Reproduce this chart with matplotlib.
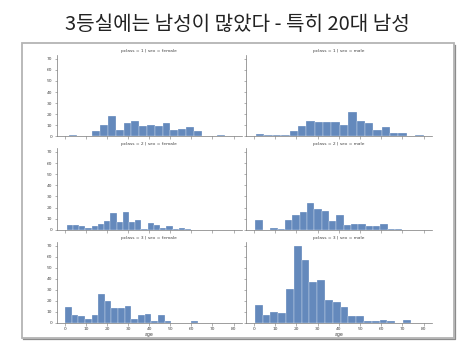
import matplotlib.pyplot as plt
import numpy as np
from matplotlib.patches import Rectangle
from matplotlib.lines import Line2D

# age histogram counts per facet (20 bins over each facet's own age range)
pclass_rows = [1, 2, 3]
sex_cols = ['female', 'male']

age_min = {(1, 'female'): 2.0, (1, 'male'): 0.92,
           (2, 'female'): 0.92, (2, 'male'): 0.67,
           (3, 'female'): 0.17, (3, 'male'): 0.33}
age_max = {(1, 'female'): 76.0, (1, 'male'): 80.0,
           (2, 'female'): 60.0, (2, 'male'): 70.0,
           (3, 'female'): 63.0, (3, 'male'): 74.0}

female_1 = [1, 0, 0, 5, 10, 18, 6, 12, 14, 9, 10, 9, 12, 6, 7, 8, 5, 0, 0, 1]
male_1 = [2, 1, 1, 1, 5, 9, 14, 13, 13, 13, 10, 22, 14, 12, 6, 8, 3, 3, 0, 1]
female_2 = [4, 4, 3, 2, 3, 5, 8, 15, 7, 16, 7, 9, 1, 6, 4, 2, 3, 1, 2, 1]
male_2 = [9, 0, 2, 1, 9, 13, 16, 24, 19, 17, 8, 13, 4, 5, 5, 3, 3, 5, 1, 1]
female_3 = [14, 7, 6, 3, 7, 26, 20, 13, 13, 15, 3, 7, 8, 1, 7, 1, 0, 0, 0, 1]
male_3 = [16, 7, 10, 9, 31, 70, 57, 37, 39, 21, 19, 14, 6, 6, 1, 1, 2, 1, 0, 2]

counts = {(1, 'female'): female_1, (1, 'male'): male_1,
          (2, 'female'): female_2, (2, 'male'): male_2,
          (3, 'female'): female_3, (3, 'male'): male_3}

title = '3등실에는 남성이 많았다 - 특히 20대 남성'

BAR_COLOR = '#6489bc'
SPINE_COLOR = '#777777'

fig = plt.figure(figsize=(4.73, 3.52), dpi=100)
fig.patch.set_facecolor('white')

W, H = 473.0, 352.0

# slide title
fig.text(237 / W, 1 - 24.5 / H, title, ha='center', va='center', fontsize=14.5,
         color='#222222', family=['Noto Sans CJK KR', 'DejaVu Sans'])

# picture frame with a little shadow
fx0, fx1, fy0, fy1 = 21.5, 454, 43, 338
fig.patches.append(Rectangle((fx0 / W, 1 - fy1 / H), (fx1 - fx0) / W, (fy1 - fy0) / H,
                             transform=fig.transFigure, fill=False,
                             edgecolor='#b4b4b4', linewidth=1.3))
fig.lines.append(Line2D([(fx0 + 1.5) / W, (fx1 + 1.2) / W, (fx1 + 1.2) / W],
                        [1 - (fy1 + 1.2) / H, 1 - (fy1 + 1.2) / H, 1 - (fy0 + 1.5) / H],
                        transform=fig.transFigure, color='#8c8c8c', linewidth=0.9))

# facet positions in pixels (top, bottom) and (left, right)
row_px = [(55, 136.3), (148, 229.8), (242, 322.5)]
col_px = [(56.7, 242), (246, 432)]

for r, pc in enumerate(pclass_rows):
    for c, sx in enumerate(sex_cols):
        top, bot = row_px[r]
        left, right = col_px[c]
        ax = fig.add_axes([left / W, 1 - bot / H, (right - left) / W, (bot - top) / H])

        edges = np.linspace(age_min[pc, sx], age_max[pc, sx], len(counts[pc, sx]) + 1)
        ax.bar(edges[:-1], counts[pc, sx], width=np.diff(edges), align='edge',
               color=BAR_COLOR, edgecolor='white', linewidth=0.2)

        ax.set_xlim(-3.8, 84)
        ax.set_ylim(0, 73.5)
        ax.set_xticks(range(0, 81, 10))
        ax.set_yticks(range(0, 71, 10))

        for side in ['top', 'right']:
            ax.spines[side].set_visible(False)
        for side in ['left', 'bottom']:
            ax.spines[side].set_color(SPINE_COLOR)
            ax.spines[side].set_linewidth(0.5)

        ax.tick_params(length=1.8, width=0.4, color=SPINE_COLOR, labelsize=3.2,
                       labelcolor='#444444', pad=1.5)
        if c != 0:
            ax.tick_params(labelleft=False)
        if r != len(pclass_rows) - 1:
            ax.tick_params(labelbottom=False)
        else:
            ax.set_xlabel('age', fontsize=3.4, color='#444444', labelpad=1)

        ax.set_title(f'pclass = {pc} | sex = {sx}', fontsize=3.2, color='#444444', pad=2)

fig.savefig('out.png', dpi=100, facecolor='white')
